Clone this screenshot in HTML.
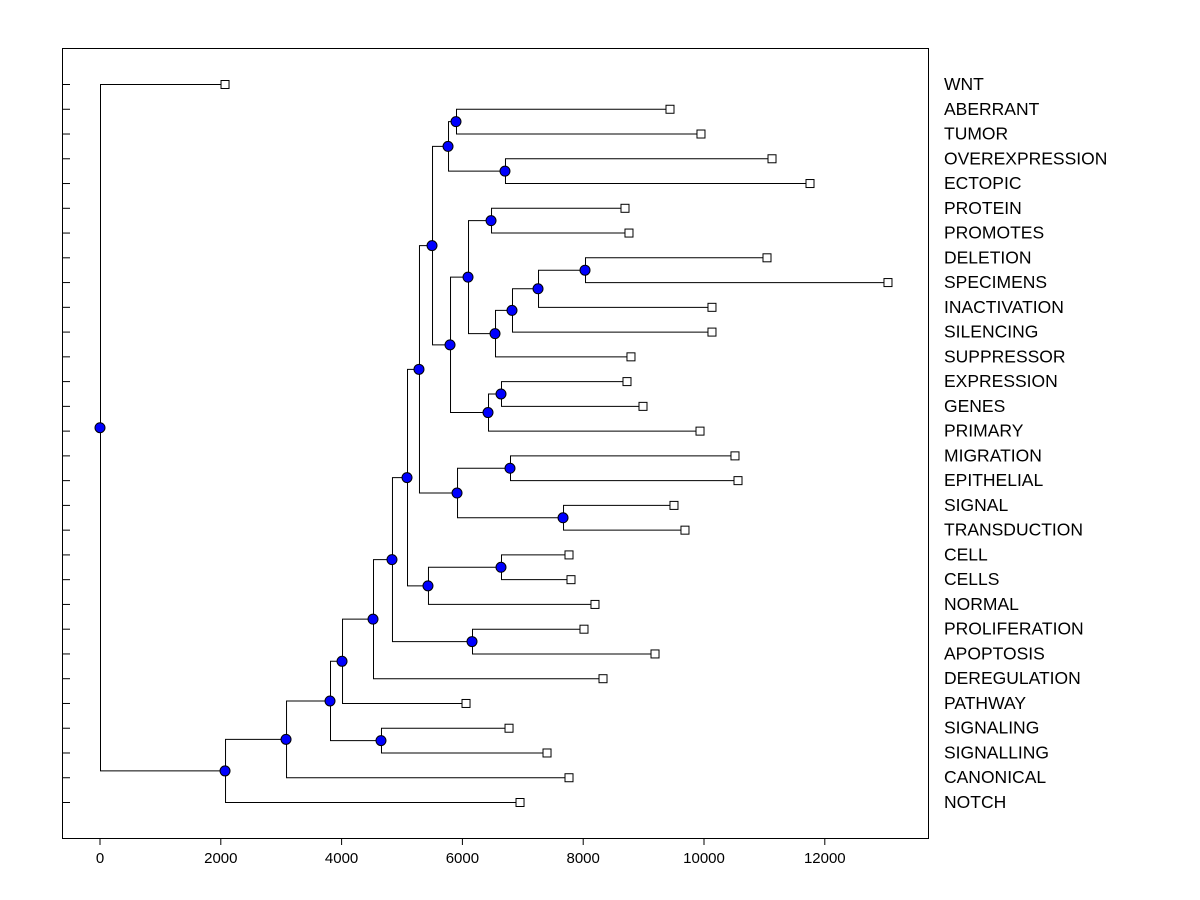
<!DOCTYPE html>
<html><head><meta charset="utf-8"><style>
html,body{margin:0;padding:0;background:#fff;}
svg{display:block;font-family:"Liberation Sans",Arial,sans-serif;}
</style></head><body>
<svg id="chart" width="1200" height="900" viewBox="0 0 1200 900" xmlns="http://www.w3.org/2000/svg">
<rect x="62.5" y="48.5" width="866" height="790" fill="#fff" stroke="#000" stroke-width="1"/>
<g id="ticks"></g><g id="links"></g><g id="marks"></g><g id="labels"></g>
</svg>
<script>
const leafNames=["WNT","ABERRANT","TUMOR","OVEREXPRESSION","ECTOPIC","PROTEIN","PROMOTES","DELETION","SPECIMENS","INACTIVATION","SILENCING","SUPPRESSOR","EXPRESSION","GENES","PRIMARY","MIGRATION","EPITHELIAL","SIGNAL","TRANSDUCTION","CELL","CELLS","NORMAL","PROLIFERATION","APOPTOSIS","DEREGULATION","PATHWAY","SIGNALING","SIGNALLING","CANONICAL","NOTCH"];
const leafHeights=[2070,9437,9950,11126,11755,8692,8758,11043,13046,10132,10132,8791,8725,8990,9934,10513,10563,9503,9685,7765,7798,8195,8013,9189,8328,6060,6772,7401,7765,6954];
const mergeLeft=["L1","L3","N0","L5","L7","N4","N5","N6","N3","L12","N9","N8","N2","L15","L17","N13","N12","L19","N17","N16","L22","N19","N21","N22","L26","N23","N25","N26","L0"];
const mergeRight=["L2","L4","N1","L6","L8","L9","L10","L11","N7","L13","L14","N10","N11","L16","L18","N14","N15","L20","L21","N18","L23","N20","L24","L25","L27","N24","L28","L29","N27"];
const mergeHeights=[5894,6705,5762,6474,8030,7252,6821,6540,6093,6639,6424,5795,5497,6788,7666,5911,5281,6639,5430,5083,6159,4834,4520,4007,4652,3808,3080,2070,0];
const xTicks=[0,2000,4000,6000,8000,10000,12000];

const NS="http://www.w3.org/2000/svg";
const xs=v=>100+v*0.0604;
const ys=i=>84+i*(802-84)/29;
function mk(tag,attrs,parent){const e=document.createElementNS(NS,tag);for(const k in attrs)e.setAttribute(k,attrs[k]);document.getElementById(parent).appendChild(e);return e;}

xTicks.forEach(t=>{
  const l=mk("line",{x1:xs(t),x2:xs(t),y1:838,y2:845,stroke:"#000"},"ticks");
  
  
  const tx=mk("text",{x:xs(t),y:863,"font-size":15,"text-anchor":"middle"},"labels");
  tx.textContent=t;
  
  
});
leafNames.forEach((n,i)=>{
  const l=mk("line",{x1:62,x2:70,y1:ys(i)+0.5,y2:ys(i)+0.5,stroke:"#000"},"ticks");
  
  
  const tx=mk("text",{x:944,y:ys(i)+6,"font-size":17.5},"labels");
  tx.textContent=n;
  
  
});

const nodeY=[];
function pos(ref){const k=+ref.slice(1);return ref[0]==="L"?{x:xs(leafHeights[k]),y:ys(k)}:{x:xs(mergeHeights[k]),y:nodeY[k]};}
mergeHeights.forEach((h,k)=>{
  const a=pos(mergeLeft[k]),b=pos(mergeRight[k]);
  const x=xs(h);nodeY[k]=(a.y+b.y)/2;
  const p=mk("path",{d:`M${a.x},${a.y+0.5}H${x+0.5}V${b.y+0.5}H${b.x}`,fill:"none",stroke:"#000","stroke-width":1},"links");
  
  
});
leafHeights.forEach((h,i)=>{
  const r=mk("rect",{x:xs(h)-4,y:ys(i)-3.5,width:8,height:8,fill:"#fff",stroke:"#000"},"marks");
  
  
});
mergeHeights.forEach((h,k)=>{
  const c=mk("circle",{cx:xs(h),cy:nodeY[k]+0.5,r:5,fill:"#0000ff",stroke:"#000"},"marks");
  
  
});
</script>
</body></html>
